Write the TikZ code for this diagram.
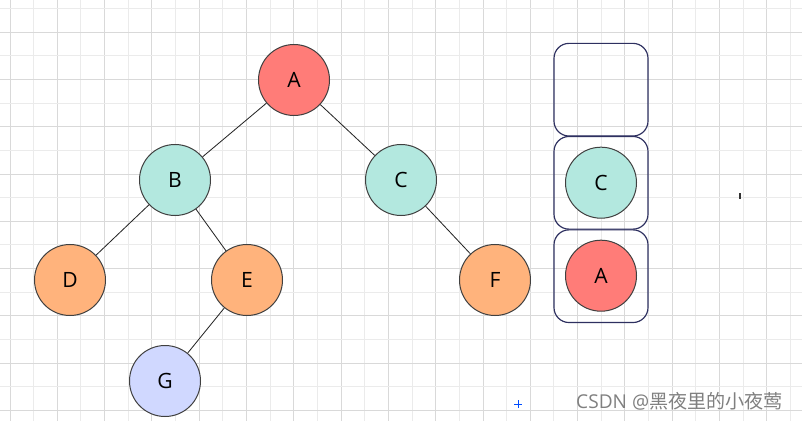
\documentclass[tikz,border=0pt]{standalone}
\usepackage{fontspec}
\setmainfont{Open Sans}
\newfontfamily\cjkfont{Noto Sans CJK SC}
\definecolor{rood}{HTML}{FF7C78}
\definecolor{munt}{HTML}{B3E8DF}
\definecolor{oranje}{HTML}{FFB37C}
\definecolor{lila}{HTML}{D0D8FF}
\definecolor{rand}{HTML}{2E3060}
\begin{document}
\begin{tikzpicture}[x=0.3mm, y=-0.3mm]
        % stijlen
        \tikzstyle{knoop} = [circle, minimum size=21.3mm, inner sep=0pt, draw=black!75, line width=0.3mm, font=\fontsize{18}{20}\selectfont]
        \tikzstyle{vak} = [rectangle, rounded corners=4.5mm, minimum width=28.2mm, minimum height=27.8mm, draw=rand, line width=0.35mm]
        \tikzstyle{tak} = [line width=0.25mm, black!85]
        \tikzstyle{lijn} = [line width=0.3mm, black!8]
        \tikzstyle{hoofdlijn} = [line width=0.3mm, black!15]

        % achtergrond
        \useasboundingbox (0,0) rectangle (802,421);
        \fill[white] (0,0) rectangle (802,421);
        \foreach \i in {1,3,...,33}
            \draw[lijn] ({10+23.65*\i},0) -- ({10+23.65*\i},421);
        \foreach \i in {0,2,...,32}
            \draw[hoofdlijn] ({10+23.65*\i},0) -- ({10+23.65*\i},421);
        \foreach \j in {0,2,...,16}
            \draw[lijn] (0,{8.5+23.65*\j}) -- (802,{8.5+23.65*\j});
        \foreach \j in {1,3,...,17}
            \draw[hoofdlijn] (0,{8.5+23.65*\j}) -- (802,{8.5+23.65*\j});

        % boom
        \node (A) [knoop, fill=rood] at (294,80) {A};
        \node (B) [knoop, fill=munt] at (175,180) {B};
        \node (C) [knoop, fill=munt] at (401,180) {C};
        \node (D) [knoop, fill=oranje] at (70,280) {D};
        \node (E) [knoop, fill=oranje] at (247,280) {E};
        \node (F) [knoop, fill=oranje] at (495,280) {F};
        \node (G) [knoop, fill=lila] at (165,381) {G};

        \draw [tak] (A) -- (B);
        \draw [tak] (A) -- (C);
        \draw [tak] (B) -- (D);
        \draw [tak] (B) -- (E);
        \draw [tak] (C) -- (F);
        \draw [tak] (E) -- (G);

        % stapel
        \node (vak1) [vak] at (601,89.7) {};
        \node (vak2) [vak] at (601,182.8) {};
        \node (vak3) [vak] at (601,276.2) {};
        \node (sC) [knoop, fill=munt] at (601,182.7) {C};
        \node (sA) [knoop, fill=rood] at (601,275.7) {A};

        % losse tekens
        \draw[line width=0.3mm, blue!70!cyan] (514,404) -- (522,404) (518,400) -- (518,408);
        \fill[black!80] (739.3,193) rectangle (741.3,199.5);
        \node (merk) [anchor=east, text=black!50, font=\fontsize{16.3}{18}\selectfont] at (787,401) {CSDN @{\cjkfont 黑夜里的小夜莺}};
    \end{tikzpicture}
\end{document}
